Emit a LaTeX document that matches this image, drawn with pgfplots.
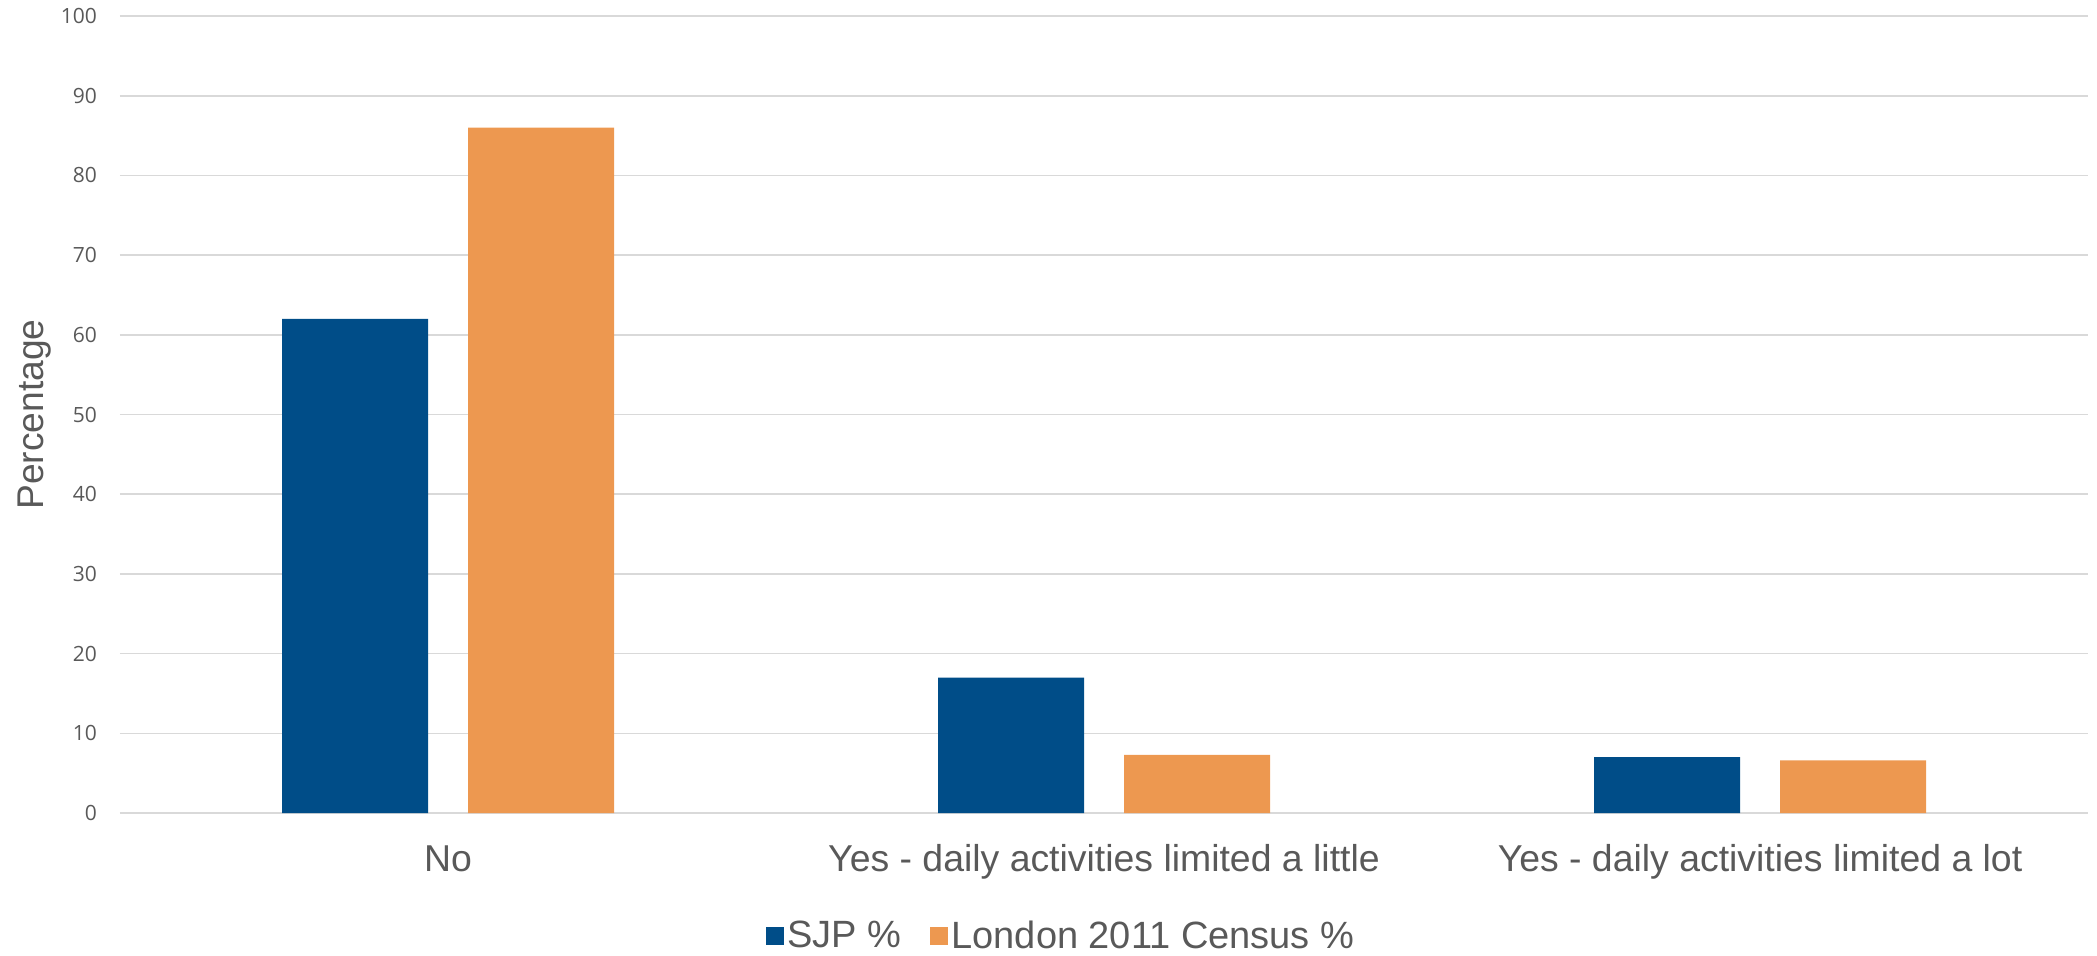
\documentclass[border=0pt]{standalone}
\usepackage{pgfplots}
\pgfplotsset{compat=1.18}
\usepackage{fontspec}
\setmainfont{Liberation Sans}
\newfontfamily\tickfont{Open Sans}
\definecolor{sjpblue}{HTML}{004D88}
\definecolor{lonorange}{HTML}{ED9850}
\definecolor{txtgray}{HTML}{595959}
\definecolor{gridgray}{HTML}{D9D9D9}
\begin{document}
\begin{tikzpicture}
\path[use as bounding box] (0,0) rectangle (1048.5pt,477.5pt);
\begin{axis}[
  at={(60pt,71pt)}, anchor=south west,
  scale only axis,
  width=984pt, height=398.5pt,
  xmin=-0.5, xmax=2.5,
  ymin=0, ymax=100,
  ytick={0,10,...,100},
  xtick=data,
  xticklabels={No, Yes - daily activities limited a little, Yes - daily activities limited a lot},
  axis line style={draw=none},
  major tick length=0pt,
  ymajorgrids,
  grid style={gridgray, line width=0.8pt},
  /pgf/number format/assume math mode=true,
  yticklabel style={font=\tickfont\fontsize{10.5}{12}\selectfont, text=txtgray, xshift=-8pt},
  xticklabel style={font=\fontsize{18.7}{22}\selectfont, text=txtgray, anchor=base, yshift=-29pt},
  ylabel={Percentage},
  ylabel style={font=\fontsize{18.6}{22}\selectfont, text=txtgray, at={(axis description cs:-0.0435,0.5)}, anchor=center},
  ybar=20pt,
  bar width=73pt,
  legend columns=2,
  legend style={draw=none, fill=none, at={(axis description cs:0.3278,-0.1543)}, anchor=west,
    inner sep=0pt, font=\fontsize{19}{22}\selectfont, text=txtgray,
    /tikz/every even column/.append style={column sep=12pt}},
  legend image code/.code={\fill[#1] (0pt,-4.5pt) rectangle (9pt,4.5pt);},
]
\addplot[fill=sjpblue, draw=none] coordinates {(0,62) (1,17) (2,7)};
\addplot[fill=lonorange, draw=none] coordinates {(0,86) (1,7.3) (2,6.6)};
\legend{SJP \%, London 2011 Census \%}
\end{axis}
\end{tikzpicture}
\end{document}
